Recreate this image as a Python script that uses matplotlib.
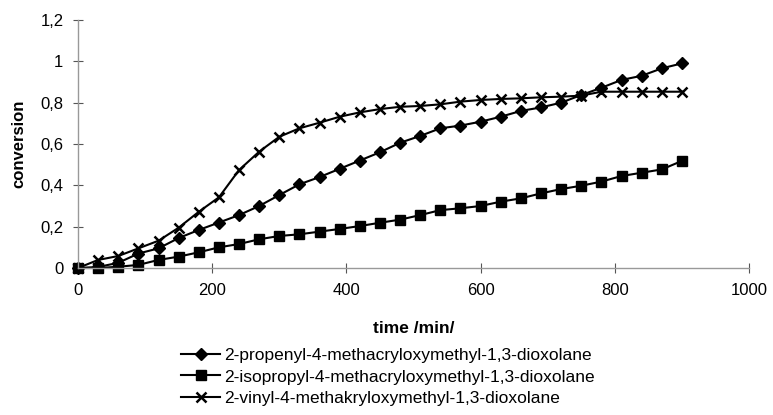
import matplotlib
matplotlib.use("Agg")
import matplotlib.pyplot as plt
from matplotlib.ticker import FuncFormatter

plt.rcParams['font.family'] = ['Liberation Sans', 'DejaVu Sans']

time = list(range(0, 901, 30))
propenyl = [0, 0.005, 0.025, 0.07, 0.095, 0.145, 0.184, 0.22, 0.256, 0.30, 0.353, 0.405,
            0.44, 0.48, 0.52, 0.56, 0.606, 0.639, 0.676, 0.689, 0.708, 0.732, 0.76, 0.777,
            0.80, 0.837, 0.872, 0.91, 0.93, 0.966, 0.99]
isopropyl = [0, 0, 0.006, 0.015, 0.039, 0.055, 0.076, 0.10, 0.116, 0.139, 0.155, 0.163,
             0.176, 0.189, 0.203, 0.219, 0.234, 0.256, 0.28, 0.289, 0.30, 0.321, 0.337,
             0.361, 0.382, 0.398, 0.418, 0.445, 0.461, 0.477, 0.518]
vinyl = [0, 0.039, 0.058, 0.095, 0.132, 0.195, 0.272, 0.342, 0.474, 0.563, 0.635, 0.676,
         0.703, 0.732, 0.753, 0.769, 0.78, 0.784, 0.792, 0.805, 0.813, 0.818, 0.821, 0.826,
         0.829, 0.834, 0.853, 0.853, 0.853, 0.853, 0.853]
labels = ['2-propenyl-4-methacryloxymethyl-1,3-dioxolane',
          '2-isopropyl-4-methacryloxymethyl-1,3-dioxolane',
          '2-vinyl-4-methakryloxymethyl-1,3-dioxolane']
xticks = [0, 200, 400, 600, 800, 1000]
yticks = [0, 0.2, 0.4, 0.6, 0.8, 1.0, 1.2]

fig = plt.figure(figsize=(7.73, 4.15), dpi=100)
ax = fig.add_axes([78/773, 1-268/415, (749-78)/773, (268-20)/415])

ax.plot(time, propenyl, color='black', lw=1.5, marker='D', ms=6.5, label=labels[0])
ax.plot(time, isopropyl, color='black', lw=1.5, marker='s', ms=7, label=labels[1])
ax.plot(time, vinyl, color='black', lw=1.5, marker='x', ms=7.5, mew=1.8, label=labels[2])

ax.set_xlim(0, 1000)
ax.set_ylim(0, 1.2)
ax.set_xticks(xticks)
ax.set_yticks(yticks)

def fmt(v, pos):
    return ('%g' % round(v, 2)).replace('.', ',')
ax.yaxis.set_major_formatter(FuncFormatter(fmt))
ax.xaxis.set_major_formatter(FuncFormatter(lambda v, p: '%d' % v))

for s in ['top', 'right']:
    ax.spines[s].set_visible(False)
for s in ['left', 'bottom']:
    ax.spines[s].set_color('#999999')
    ax.spines[s].set_linewidth(1.0)
ax.tick_params(direction='inout', length=7, width=0.8, color='#555555',
               labelsize=12, pad=7)
for l in ax.lines:
    l.set_clip_on(False)

ax.set_xlabel('time /min/', fontsize=12.5, fontweight='bold')
ax.set_ylabel('conversion', fontsize=12, fontweight='bold')
ax.xaxis.set_label_coords(0.5, (268-321)/248)
ax.yaxis.set_label_coords((26-78)/671, 0.5)

fig.legend(loc='upper left', bbox_to_anchor=(181/773, 1-348/415), frameon=False,
           fontsize=12.5, handlelength=2.25, handletextpad=0.25, labelspacing=0.36,
           borderpad=0, borderaxespad=0)

fig.savefig('out.png', dpi=100)
